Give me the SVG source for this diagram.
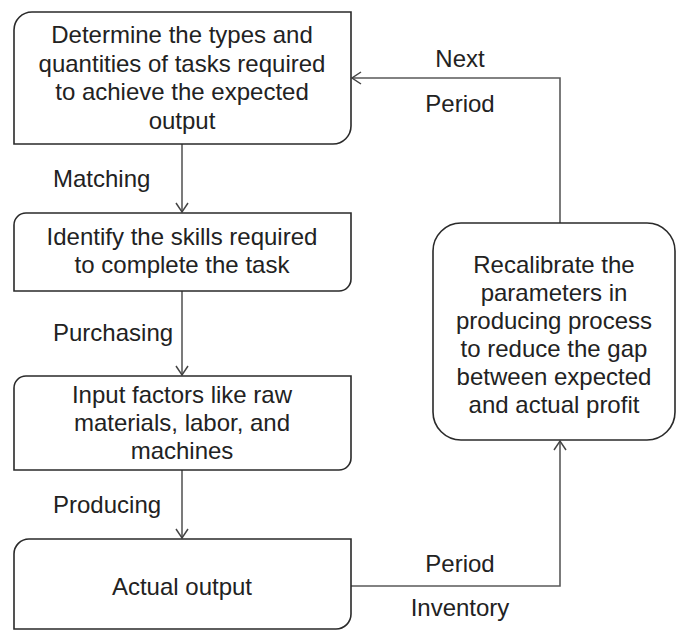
<svg xmlns="http://www.w3.org/2000/svg" width="677" height="631" viewBox="0 0 677 631">
<style>
  .box { fill: #ffffff; stroke: #2a2a2a; stroke-width: 1.6; }
  .t { font-family: "Liberation Sans", Arial, sans-serif; font-size: 24px; fill: #222222; }
  .c { text-anchor: middle; }
  .conn { fill: none; stroke: #5a5a5a; stroke-width: 1.6; }
</style>
<defs>
  <marker id="arr" markerWidth="12" markerHeight="14" refX="10" refY="7" orient="auto" markerUnits="userSpaceOnUse">
    <path d="M1,1 L10,7 L1,13" fill="none" stroke="#444444" stroke-width="1.5"/>
  </marker>
</defs>
<rect x="0" y="0" width="677" height="631" fill="#ffffff"/>

<g id="connectors">
  <line class="conn" x1="182" y1="144" x2="182" y2="212" marker-end="url(#arr)"/>
  <line class="conn" x1="182" y1="291" x2="182" y2="375" marker-end="url(#arr)"/>
  <line class="conn" x1="182" y1="470" x2="182" y2="538" marker-end="url(#arr)"/>
  <polyline class="conn" points="351,586 560,586 560,441" marker-end="url(#arr)"/>
  <polyline class="conn" points="560,223 560,78 352,78" marker-end="url(#arr)"/>
  <text class="t" x="53" y="187">Matching</text>
  <text class="t" x="53" y="341">Purchasing</text>
  <text class="t" x="53" y="513">Producing</text>
  <text class="t c" x="460" y="67">Next</text>
  <text class="t c" x="460" y="112">Period</text>
  <text class="t c" x="460" y="572">Period</text>
  <text class="t c" x="460" y="616">Inventory</text>
</g>

<g id="node-determine">
  <path class="box" d="M14,30 A18,18 0 0 1 32,12 H351 V126 A18,18 0 0 1 333,144 H14 Z"/>
  <text class="t c" x="182" y="43">Determine the types and</text>
  <text class="t c" x="182" y="71.5">quantities of tasks required</text>
  <text class="t c" x="182" y="100">to achieve the expected</text>
  <text class="t c" x="182" y="128.5">output</text>
</g>

<g id="node-identify">
  <path class="box" d="M14,225 A12,12 0 0 1 26,213 H351 V279 A12,12 0 0 1 339,291 H14 Z"/>
  <text class="t c" x="182" y="245">Identify the skills required</text>
  <text class="t c" x="182" y="273">to complete the task</text>
</g>

<g id="node-input">
  <path class="box" d="M14,388 A12,12 0 0 1 26,376 H351 V458 A12,12 0 0 1 339,470 H14 Z"/>
  <text class="t c" x="182" y="403">Input factors like raw</text>
  <text class="t c" x="182" y="431">materials, labor, and</text>
  <text class="t c" x="182" y="459">machines</text>
</g>

<g id="node-actual">
  <path class="box" d="M14,554 A15,15 0 0 1 29,539 H351 V614 A15,15 0 0 1 336,629 H14 Z"/>
  <text class="t c" x="182" y="595">Actual output</text>
</g>

<g id="node-recalibrate">
  <rect class="box" x="433" y="223" width="242" height="217" rx="28" ry="28"/>
  <text class="t c" x="554" y="273">Recalibrate the</text>
  <text class="t c" x="554" y="301">parameters in</text>
  <text class="t c" x="554" y="329">producing process</text>
  <text class="t c" x="554" y="357">to reduce the gap</text>
  <text class="t c" x="554" y="385">between expected</text>
  <text class="t c" x="554" y="413">and actual profit</text>
</g>
</svg>
